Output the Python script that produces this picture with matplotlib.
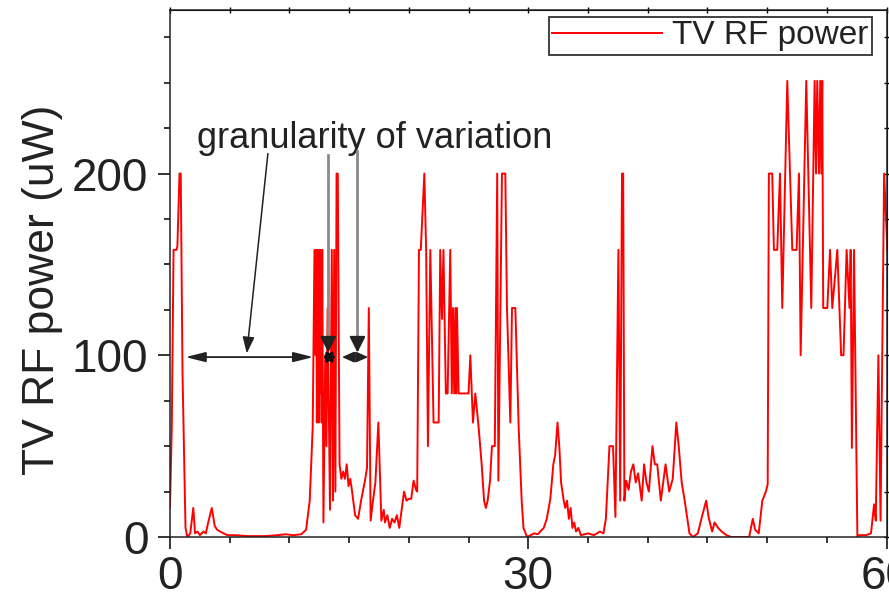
import matplotlib
matplotlib.use("Agg")
import matplotlib.pyplot as plt
import numpy as np

plt.rcParams['font.family'] = ['Liberation Sans', 'DejaVu Sans']

time_min = [0.0, 0.15, 0.3, 0.55, 0.62, 0.8, 0.9, 1.05, 1.3, 1.45, 1.7, 1.95, 2.1, 2.3,
            2.5, 2.8, 3.0, 3.2, 3.5, 3.75, 3.95, 4.2, 4.5, 4.8, 5.5, 6.5, 8.0, 9.0,
            9.7, 10.3, 11.0, 11.4, 11.7, 11.95, 12.1, 12.2, 12.25, 12.3, 12.35, 12.45,
            12.5, 12.55, 12.6, 12.7, 12.75, 12.85, 13.0, 13.1, 13.2, 13.4, 13.55, 13.65,
            13.75, 13.85, 13.95, 14.05, 14.2, 14.35, 14.5, 14.65, 14.8, 14.95, 15.1,
            15.25, 15.5, 15.75, 16.0, 16.3, 16.5, 16.65, 16.8, 17.0, 17.2, 17.45, 17.7,
            17.9, 18.0, 18.2, 18.4, 18.6, 18.8, 19.0, 19.2, 19.4, 19.6, 19.8, 20.0,
            20.2, 20.4, 20.6, 20.7, 20.85, 21.0, 21.3, 21.45, 21.6, 21.8, 22.07, 22.3,
            22.5, 22.63, 22.78, 22.9, 23.1, 23.25, 23.47, 23.6, 23.7, 23.8, 23.9, 23.97,
            24.03, 24.17, 25.0, 25.15, 25.37, 25.57, 25.85, 26.1, 26.3, 26.45, 26.6,
            26.8, 26.96, 27.2, 27.4, 27.5, 27.8, 28.08, 28.22, 28.5, 28.64, 28.92, 29.2,
            29.45, 29.6, 29.9, 30.2, 30.5, 30.8, 31.0, 31.3, 31.55, 31.85, 32.1, 32.25,
            32.45, 32.6, 32.75, 32.97, 33.1, 33.25, 33.4, 33.55, 33.7, 33.85, 34.0,
            34.2, 34.4, 35.0, 35.5, 36.0, 36.3, 36.5, 36.8, 37.1, 37.3, 37.55, 37.7,
            37.85, 37.95, 38.05, 38.2, 38.4, 38.6, 38.8, 39.0, 39.2, 39.5, 39.7, 39.9,
            40.1, 40.4, 40.6, 40.8, 41.1, 41.3, 41.5, 41.8, 42.1, 42.4, 42.6, 42.85,
            43.1, 43.3, 43.5, 43.8, 44.2, 44.5, 44.9, 45.1, 45.4, 45.6, 45.9, 46.2,
            46.6, 47.0, 48.5, 48.8, 49.0, 49.3, 49.6, 49.9, 50.05, 50.15, 50.43, 50.57,
            50.85, 51.08, 51.27, 51.69, 52.11, 52.47, 52.67, 52.81, 53.28, 53.7, 53.98,
            54.1, 54.2, 54.35, 54.45, 54.55, 54.62, 54.7, 55.04, 55.27, 55.46, 55.88,
            56.2, 56.4, 56.66, 56.9, 57.0, 57.1, 57.28, 57.56, 57.7, 58.3, 58.7, 58.96,
            59.1, 59.32, 59.5, 59.8, 60.07]
power_uw = [16, 60, 158, 158, 160, 200, 200, 90, 5, 0, 2, 16, 2, 3,
            1, 3, 2, 8, 16, 6, 4, 3, 2, 1, 1, 0.5, 0.5, 1,
            1.5, 1, 1.5, 4, 20, 60, 158, 100, 158, 63, 158, 63,
            158, 79, 158, 63, 158, 8, 100, 50, 126, 15, 158, 20,
            158, 25, 200, 200, 40, 32, 36, 32, 40, 28, 32,
            25, 12, 10, 20, 30, 38, 126, 9, 20, 30, 63, 9,
            15, 8, 12, 5, 10, 8, 12, 5, 15, 25, 20, 21,
            21, 31, 26, 25, 158, 158, 200, 158, 50, 158, 63, 63,
            63, 158, 120, 158, 79, 79, 158, 79, 126, 79, 126, 79,
            126, 79, 79, 100, 63, 79, 60, 40, 20, 16, 20,
            31, 50, 50, 200, 31, 200, 200, 126, 63, 126, 126, 60,
            20, 5, 0, 1, 2, 1.5, 3, 5, 10, 21, 40, 45,
            63, 50, 30, 20, 16, 20, 10, 16, 5, 8, 3,
            5, 1, 2, 1, 3, 2, 10, 50, 50, 11, 158, 20,
            200, 200, 20, 31, 26, 36, 40, 30, 35, 20, 40, 30,
            25, 50, 40, 40, 20, 30, 40, 25, 32, 63, 50, 30,
            20, 11, 2, 0, 2, 10, 20, 11, 3, 8, 5, 3,
            1, 0, 0, 10, 4, 2, 20, 25, 29, 200, 200, 158,
            158, 200, 126, 251, 158, 158, 200, 100, 251, 126, 251,
            200, 251, 200, 251, 200, 251, 126, 126, 158, 126, 158,
            100, 100, 158, 126, 158, 49, 158, 0, 1, 1, 2, 18,
            9, 100, 9, 200, 158]

x_major = [0, 30, 60]
y_major = [0, 100, 200]

fig = plt.figure(figsize=(8.89, 5.98), dpi=100)
ax = fig.add_axes([0.1912, 0.102, 0.806, 0.8813])

ax.plot(time_min, power_uw, color='#ff0000', lw=1.4, label='TV RF power', zorder=2)

ax.set_xlim(0, 60)
ax.set_ylim(0, 290)
ax.set_xticks(x_major)
ax.set_xticks(np.arange(0, 61, 5), minor=True)
ax.set_yticks(y_major)
ax.set_yticks(np.arange(0, 290, 25), minor=True)
ax.tick_params(which='major', direction='out', length=8.6, width=1.1,
               labelsize=33, labelcolor='#222222', pad=4)
ax.tick_params(axis='y', which='major', pad=7)
ax.tick_params(which='minor', direction='out', length=4.6, width=1.1)
for sp in ax.spines.values():
    sp.set_linewidth(1.1)
    sp.set_color('#222222')

# small ticks on top and right spines
top = ax.secondary_xaxis('top')
top.set_xticks(np.arange(0, 61, 5))
top.tick_params(direction='inout', length=4, width=1.0, labeltop=False)
right = ax.secondary_yaxis('right')
right.set_yticks(np.arange(0, 290, 25))
right.tick_params(direction='inout', length=4, width=1.0, labelright=False)

ax.set_ylabel('TV RF power (uW)', fontsize=32, color='#222222', va='center')
ax.yaxis.set_label_coords(-0.178, 0.469)

# annotation: granularity of variation
ax.text(2.26, 214, 'granularity of variation', fontsize=26, color='#222222',
        ha='left', va='baseline')

big = dict(arrowstyle='<|-|>,head_length=0.6,head_width=0.15', color='#222222',
           lw=1.3, shrinkA=0, shrinkB=0, mutation_scale=20)
ax.annotate('', xy=(1.3, 99), xytext=(12.0, 99), arrowprops=big)
small = dict(arrowstyle='<|-|>,head_length=0.4,head_width=0.25', color='#111111',
             lw=2.0, shrinkA=0, shrinkB=0, mutation_scale=12)
ax.annotate('', xy=(12.8, 99), xytext=(13.9, 99), arrowprops=small)
mid = dict(arrowstyle='<|-|>,head_length=0.45,head_width=0.2', color='#222222',
           lw=1.3, shrinkA=0, shrinkB=0, mutation_scale=16)
ax.annotate('', xy=(14.4, 99), xytext=(16.6, 99), arrowprops=mid)

ax.annotate('', xy=(6.43, 101), xytext=(8.2, 211),
            arrowprops=dict(arrowstyle='-|>,head_length=0.5,head_width=0.18',
                            color='#222222', lw=1.1, shrinkA=0, shrinkB=0,
                            mutation_scale=20))
for xv, ytop in [(13.25, 210), (15.7, 212.6)]:
    ax.plot([xv, xv], [ytop, 107], color='#8a8a8a', lw=2.0, zorder=3)
    ax.annotate('', xy=(xv, 101.5), xytext=(xv, 109),
                arrowprops=dict(arrowstyle='-|>,head_length=0.6,head_width=0.3',
                                color='#222222', lw=1.5, shrinkA=0, shrinkB=0,
                                mutation_scale=16))

leg = ax.legend(loc='upper right', bbox_to_anchor=(0.98, 0.987), borderaxespad=0,
                fontsize=24, handlelength=3.3, handletextpad=0.3, borderpad=0.1,
                fancybox=False, framealpha=1)
leg.get_frame().set_edgecolor('#333333')
leg.get_frame().set_linewidth(1.3)
for t in leg.get_texts():
    t.set_color('#222222')

fig.savefig('out.png', dpi=100)
